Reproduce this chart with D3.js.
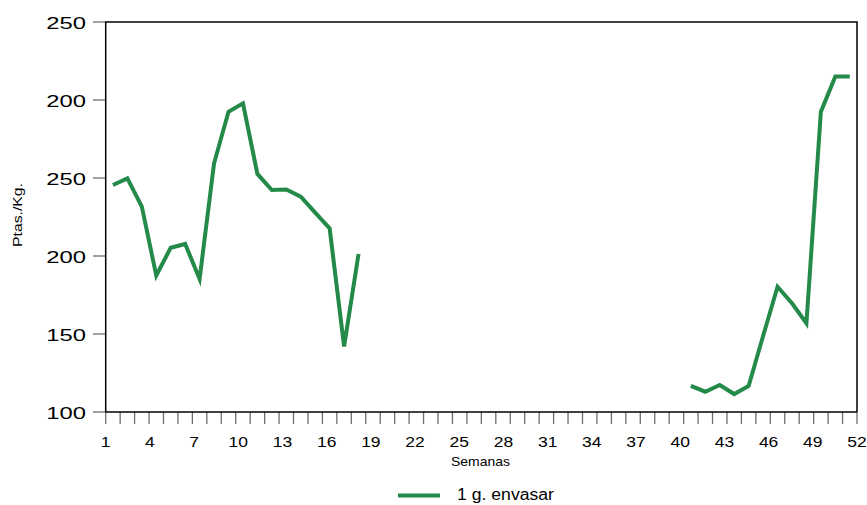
<!DOCTYPE html>
<html><head><meta charset="utf-8">
<script src="https://cdn.jsdelivr.net/npm/d3@7"></script>
<style>
body{margin:0;background:#fff}
text{font-family:"Liberation Sans",Arial,sans-serif;fill:#000}
</style></head>
<body><svg id="c" width="867" height="505"></svg>
<script>
const weeks = d3.range(1, 53);
const values = [
  245.5, 249.8, 231.6, 187.5, 205.3, 207.7, 185.3, 259.4, 292.5, 297.9,
  252.6, 242.3, 242.6, 238.0, 227.8, 217.7, 142.0, 201.3,
  null, null, null, null, null, null, null, null, null, null, null,
  null, null, null, null, null, null, null, null, null, null, null,
  116.7, 113.0, 117.3, 111.5, 116.7, 148.7, 180.3, 169.7, 156.9, 292.5, 315.0, 315.0
];
const yTickValues = [100, 150, 200, 250, 300, 350];
const yTickLabels = ["100", "150", "200", "250", "200", "250"];
const xLabelWeeks = [1, 4, 7, 10, 13, 16, 19, 22, 25, 28, 31, 34, 37, 40, 43, 46, 49, 52];
const seriesName = "1 g. envasar";
const xTitle = "Semanas";
const yTitle = "Ptas./Kg.";

const L = 105.7, R = 857, T = 22, B = 412;
const svg = d3.select("#c");
const x = d3.scaleLinear().domain([0.5, 52.5]).range([L, R]);
const xl = d3.scaleLinear().domain([1, 52]).range([L, R]);
const y = d3.scaleLinear().domain([100, 350]).range([B, T]);
const green = "#248a4a";

// y ticks
const yt = svg.append("g");
yTickValues.forEach((v, i) => {
  yt.append("line").attr("x1", 93).attr("x2", L).attr("y1", y(v)).attr("y2", y(v))
    .attr("stroke", "#6e6e6e").attr("stroke-width", 1.3);
  yt.append("text").attr("transform", `translate(86,${y(v) + 1.5}) scale(1.4,1)`)
    .attr("text-anchor", "end").attr("dy", "0.35em").attr("font-size", 17)
    .text(yTickLabels[i]);
});

// x tick marks at category boundaries
const xt = svg.append("g");
d3.range(0.5, 53, 1).forEach(k => {
  xt.append("line").attr("x1", x(k)).attr("x2", x(k)).attr("y1", B).attr("y2", B + 12)
    .attr("stroke", "#6e6e6e").attr("stroke-width", 1.3);
});
xLabelWeeks.forEach(w => {
  xt.append("text").attr("transform", `translate(${xl(w)},447) scale(1.25,1)`)
    .attr("text-anchor", "middle").attr("font-size", 14).text(w);
});

// frame
svg.append("path").attr("d", `M${L},${B}V${T}H${R}V${B}`).attr("fill", "none")
  .attr("stroke", "#000").attr("stroke-width", 1.5);
svg.append("line").attr("x1", L).attr("x2", R).attr("y1", B).attr("y2", B)
  .attr("stroke", "#000").attr("stroke-width", 1.5);

// line
const data = weeks.map((w, i) => ({w, v: values[i]}));
svg.append("path").datum(data)
  .attr("fill", "none").attr("stroke", green).attr("stroke-width", 4)
  .attr("d", d3.line().defined(d => d.v != null).x(d => x(d.w)).y(d => y(d.v)));

// titles
svg.append("text").attr("x", 480.5).attr("y", 466).attr("text-anchor", "middle")
  .attr("font-size", 13).attr("textLength", 59).attr("lengthAdjust", "spacingAndGlyphs").text(xTitle);
svg.append("text").attr("transform", "translate(22,215) rotate(-90)").attr("text-anchor", "middle")
  .attr("font-size", 13).attr("textLength", 64).attr("lengthAdjust", "spacingAndGlyphs").text(yTitle);

// legend
svg.append("line").attr("x1", 398).attr("x2", 440).attr("y1", 495.5).attr("y2", 495.5)
  .attr("stroke", green).attr("stroke-width", 4);
svg.append("text").attr("x", 457).attr("y", 500).attr("font-size", 16)
  .attr("textLength", 97).attr("lengthAdjust", "spacingAndGlyphs").text(seriesName);
</script></body></html>
